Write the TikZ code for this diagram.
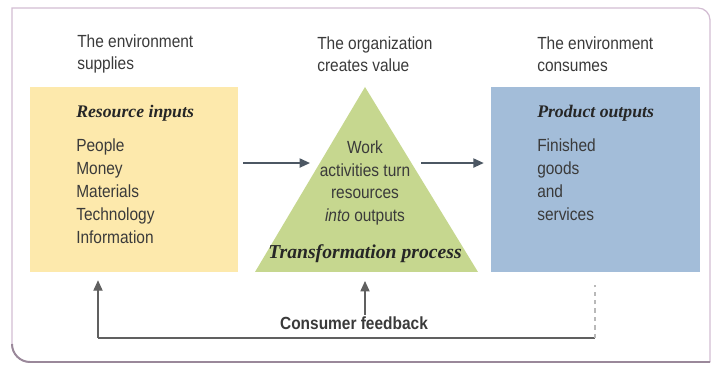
\documentclass[tikz,border=0pt]{standalone}
\usepackage{fontspec}
\setmainfont[FakeStretch=0.88]{Liberation Sans}
\newfontfamily\serifbi{Liberation Serif}
\usetikzlibrary{arrows.meta,positioning,calc}

\definecolor{inputyellow}{HTML}{FDE9AC}
\definecolor{processgreen}{HTML}{C6D78F}
\definecolor{outputblue}{HTML}{A3BDD9}
\definecolor{arrowslate}{HTML}{4C5763}
\definecolor{textgray}{HTML}{3A3A3A}
\definecolor{framelilac}{HTML}{D3BDD3}
\definecolor{framedark}{HTML}{9A889A}

\begin{document}
\begin{tikzpicture}[
  font=\fontsize{12.5}{16.3}\selectfont,
  box/.style={minimum width=5.2cm, minimum height=4.625cm, inner sep=0pt},
  inbox/.style={box, fill=inputyellow},
  outbox/.style={box, fill=outputblue},
  heading/.style={anchor=west, align=left, inner sep=0pt, text=textgray, font=\fontsize{12.5}{15.6}\selectfont},
  boxtitle/.style={anchor=west, inner sep=0pt, text=black!85, font=\serifbi\fontsize{12.6}{14}\selectfont\bfseries\itshape},
  itemlist/.style={anchor=west, align=left, inner sep=0pt, text=textgray},
  arr/.style={-{Triangle[length=2.6mm,width=2.3mm]}, line width=1.1pt, arrowslate},
  fbarr/.style={-{Triangle[length=2.6mm,width=2.3mm]}, line width=0.8pt, gray!75!black},
  frameline/.style={draw=framelilac, line width=0.9pt},
]
\useasboundingbox (0,0) rectangle (17.775,9.125);

% outer frame, darker along the bottom
\draw[frameline] (17.75,0.075) -- (0.75,0.075) arc[start angle=270, end angle=180, radius=0.45]
  -- (0.3,8.925) -- (17.45,8.925) arc[start angle=90, end angle=0, radius=0.3] -- (17.75,0.075);
\draw[draw=framedark, line width=1.4pt] (17.75,0.075) -- (0.75,0.075) arc[start angle=270, end angle=180, radius=0.45];

% ====== HEADINGS ======
\node[heading] (hsupply) at (1.925, 7.775) {The environment\\supplies};
\node[heading] (hcreate) at (7.925, 7.775) {The organization\\creates value};
\node[heading] (hconsume) at (13.425, 7.775) {The environment\\consumes};

% ====== INPUTS ======
\node[inbox] (inputs) at (3.35, 4.6375) {};
\node[boxtitle] (intitle) at (1.9, 6.3) {Resource inputs};
\node[itemlist] (initems) at (1.9, 4.35) {People\\Money\\Materials\\Technology\\Information};

% ====== TRANSFORMATION ======
\coordinate (apex) at (9.125, 6.95);
\coordinate (bl) at (6.375, 2.325);
\coordinate (br) at (11.95, 2.325);
\fill[processgreen] (apex) -- (bl) -- (br) -- cycle;
\node[align=center, inner sep=0pt, text=textgray] (work) at (9.125, 4.55) {Work\\activities turn\\resources\\\textit{into} outputs};
\node[boxtitle, anchor=center, font=\serifbi\fontsize{14}{16}\selectfont\bfseries\itshape] (procname) at (9.125, 2.775) {Transformation process};

% ====== OUTPUTS ======
\node[outbox, minimum width=5.225cm] (outputs) at (14.8875, 4.6375) {};
\node[boxtitle] (outtitle) at (13.425, 6.3) {Product outputs};
\node[itemlist] (outitems) at (13.425, 4.6375) {Finished\\goods\\and\\services};

% arrows along the flow
\coordinate (tl) at ($(apex)!0.411!(bl)$);
\coordinate (tr) at ($(apex)!0.411!(br)$);
\draw[arr, shorten <=0.125cm, shorten >=0.245cm] (inputs.east |- tl) -- (tl);
\draw[arr, shorten <=0.24cm, shorten >=0.175cm] (tr) -- (tr -| outputs.west);

% ====== FEEDBACK LOOP ======
\node[font=\fontsize{12.5}{13}\selectfont\bfseries, text=textgray, inner sep=1pt] (fb) at (8.85, 1.05) {Consumer feedback};
\coordinate (fbl) at (2.45, 0.675);
\coordinate (fbr) at (14.875, 0.675);
\draw[gray!75!black, line width=0.8pt] (fbl) -- (fbr);
\draw[fbarr, shorten >=0.2cm] (fbl) -- (fbl |- inputs.south);
\draw[fbarr, shorten >=0.225cm] (fb.north -| apex) -- (apex |- bl);
\draw[gray!55, line width=0.9pt, dashed, shorten >=0.325cm] (fbr) -- (fbr |- outputs.south);

\end{tikzpicture}
\end{document}
